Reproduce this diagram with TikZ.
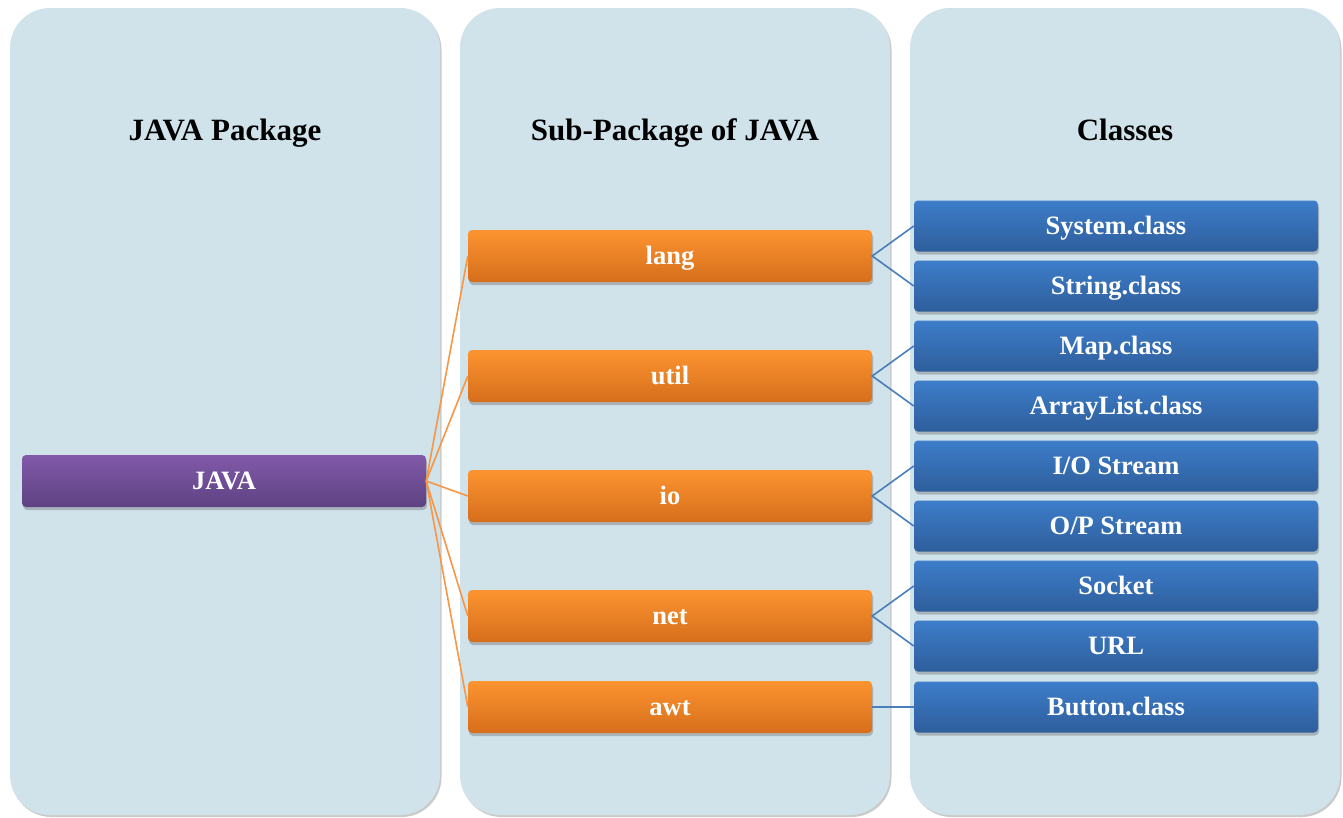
\documentclass[tikz,border=0pt]{standalone}
\usepackage{fontspec}
\setmainfont{Liberation Serif}
\usetikzlibrary{shadows}
\definecolor{panelfill}{HTML}{D0E2EA}
\definecolor{purpletop}{HTML}{8159A9}
\definecolor{purplebot}{HTML}{5E4282}
\definecolor{orangetop}{HTML}{FC9430}
\definecolor{orangebot}{HTML}{D66E1C}
\definecolor{bluetop}{HTML}{3D7DCA}
\definecolor{bluebot}{HTML}{2E5E9C}
\definecolor{orangeline}{HTML}{F79646}
\definecolor{blueline}{HTML}{4A7EBB}
\tikzset{
  panel/.style={fill=panelfill, draw=none, rounded corners=40pt,
    drop shadow={shadow xshift=1.5pt, shadow yshift=-2pt, opacity=0.35, fill=black!60}},
  title/.style={font=\bfseries\fontsize{31}{34}\selectfont, text=black,
    inner sep=0pt, text height=20.5pt, text depth=0pt},
  box/.style={rectangle, rounded corners=4pt, minimum width=404pt, minimum height=52pt,
    inner sep=0pt, text=white, font=\bfseries\fontsize{26.5}{29}\selectfont,
    text height=17.5pt, text depth=0pt,
    drop shadow={shadow xshift=1pt, shadow yshift=-3pt, opacity=0.3, fill=black!70}},
  rootbox/.style={box, top color=purpletop, bottom color=purplebot},
  subbox/.style={box, top color=orangetop, bottom color=orangebot},
  classbox/.style={box, minimum height=51pt, top color=bluetop, bottom color=bluebot},
  orangelink/.style={draw=orangeline, line width=1.6pt},
  bluelink/.style={draw=blueline, line width=1.6pt},
}
\begin{document}
\begin{tikzpicture}[x=1pt, y=-1pt]
\useasboundingbox (0,0) rectangle (1343,817);

% column panels
\path[panel] (10,8) rectangle (440,815);
\path[panel] (460,8) rectangle (890,815);
\path[panel] (910,8) rectangle (1340,815);

% column headings
\node[title] (h1) at (225,130) {JAVA Package};
\node[title] (h2) at (675,130) {Sub-Package of JAVA};
\node[title] (h3) at (1125,130) {Classes};

% root package
\node[rootbox] (java) at (224,481) {JAVA};

% sub-packages
\node[subbox] (lang) at (670,256) {lang};
\node[subbox] (util) at (670,376) {util};
\node[subbox] (io)   at (670,496) {io};
\node[subbox] (net)  at (670,616) {net};
\node[subbox] (awt)  at (670,707) {awt};

% classes
\node[classbox] (system) at (1116,226) {System.class};
\node[classbox] (string) at (1116,286) {String.class};
\node[classbox] (map)    at (1116,346) {Map.class};
\node[classbox] (alist)  at (1116,406) {ArrayList.class};
\node[classbox] (ios)    at (1116,466) {I/O Stream};
\node[classbox] (ops)    at (1116,526) {O/P Stream};
\node[classbox] (socket) at (1116,586) {Socket};
\node[classbox] (url)    at (1116,646) {URL};
\node[classbox] (button) at (1116,707) {Button.class};

% links from the root to each sub-package
\foreach \s in {lang,util,io,net,awt}
  \draw[orangelink] (java.east) -- (\s.west);

% links from each sub-package to its classes
\draw[bluelink] (system.west) -- (lang.east) -- (string.west);
\draw[bluelink] (map.west) -- (util.east) -- (alist.west);
\draw[bluelink] (ios.west) -- (io.east) -- (ops.west);
\draw[bluelink] (socket.west) -- (net.east) -- (url.west);
\draw[bluelink] (awt.east) -- (button.west);
\end{tikzpicture}
\end{document}
